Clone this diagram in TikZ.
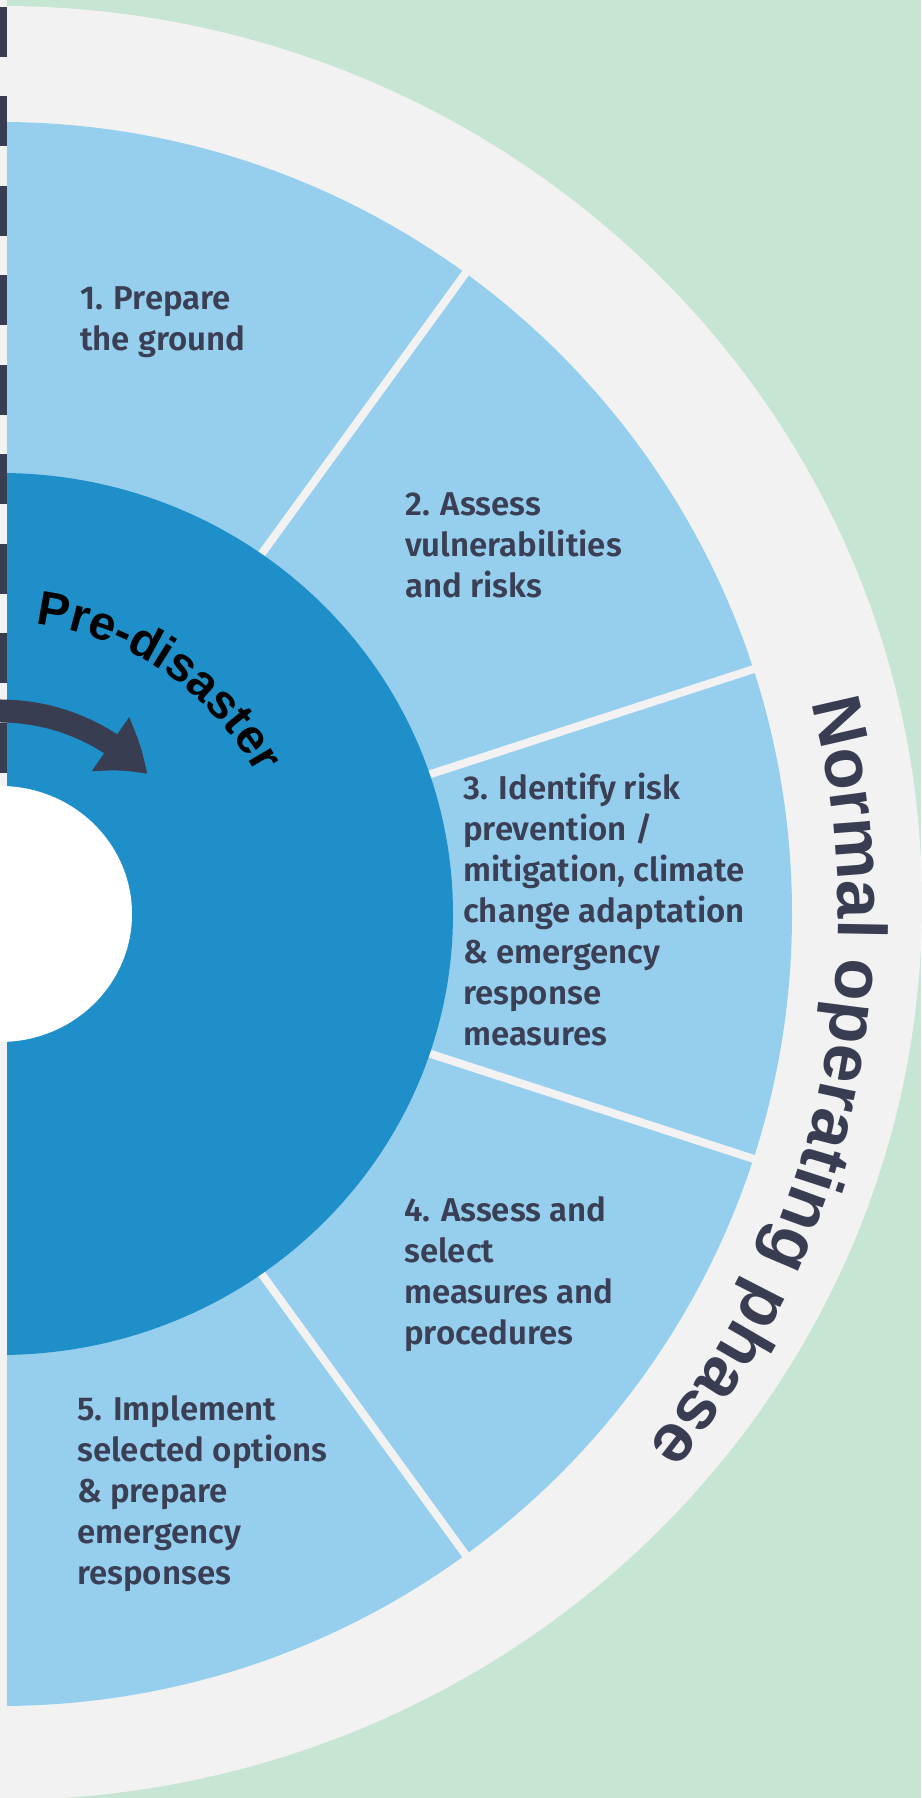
\documentclass[tikz,border=0pt]{standalone}
\usepackage{fontspec}
\setmainfont{Liberation Sans}
\newfontfamily\labfont{Fira Sans SemiBold}
\newfontfamily\arcfont{Liberation Sans Bold}
\usetikzlibrary{arrows.meta,bending,decorations.text,calc}
\definecolor{bggreen}{HTML}{C7E5D3}
\definecolor{ringgray}{HTML}{F2F2F2}
\definecolor{lightblue}{HTML}{96CFED}
\definecolor{darkblue}{HTML}{1E8FC9}
\definecolor{navy}{HTML}{383D52}
\definecolor{labnavy}{HTML}{3A3F56}
\begin{document}
\begin{tikzpicture}[x=1pt,y=1pt,
  sep/.style={draw=ringgray, line width=8pt},
  lab/.style={anchor=north west, inner sep=0pt, align=left, text=labnavy,
              font=\labfont\fontsize{33}{41}\selectfont}]
\useasboundingbox (0,0) rectangle (921,1798);
\fill[bggreen] (0,0) rectangle (921,1798);
\coordinate (c) at (0,884);
% outer grey band
\fill[ringgray] (0,895) ellipse [x radius=922, y radius=897];
% light blue ring
\fill[lightblue] (c) circle [radius=792];
\foreach \a in {54,18,-18,-54} \draw[sep] (c) -- ++(\a:800);
% dark blue disk
\fill[darkblue] (c) ellipse [x radius=453, y radius=441];
% left strip with dashed line
\fill[ringgray] (0,0) rectangle (7,1798);
\coordinate (dtop) at (3.5,1791);
\coordinate (dbot) at (3.5,1012);
\draw[navy, line width=7pt, dash pattern=on 50pt off 39.5pt] (dtop) -- (dbot);
% white centre
\fill[white] (c) ellipse [x radius=132, y radius=128];
% curved arrow
\coordinate (arrS) at ($(c)+(95:203)$);
\draw[navy, line width=23pt, -{Triangle[length=48pt,width=62pt,bend]}]
  (arrS) arc[start angle=95, end angle=43.5, radius=203];
% Pre-disaster
\path[decorate, decoration={text along path,
   text={|\arcfont\fontsize{48}{48}\selectfont|Pre-disaster},
   text color=black, text align=left}]
  (c) ++(83:292) arc[start angle=83, end angle=10, radius=292];
% Normal operating phase
\path[decorate, decoration={text along path,
   text={|\arcfont\fontsize{69}{69}\selectfont|Normal operating phase},
   text color=navy, text align=left}]
  (c) ++(14.6:838) arc[start angle=14.6, end angle=-50, radius=838];
% labels
\node[lab] (l1) at (80,1512) {1. Prepare\\the ground};
\node[lab] (l2) at (405,1306) {2. Assess\\vulnerabilities\\and risks};
\node[lab] (l3) at (463,1025) {3. Identify risk\\prevention /\\mitigation, climate\\change adaptation\\\& emergency\\response\\measures};
\node[lab] (l4) at (404,602) {4. Assess and\\select\\measures and\\procedures};
\node[lab] (l5) at (77,403) {5. Implement\\selected options\\\& prepare\\emergency\\responses};
\end{tikzpicture}
\end{document}
